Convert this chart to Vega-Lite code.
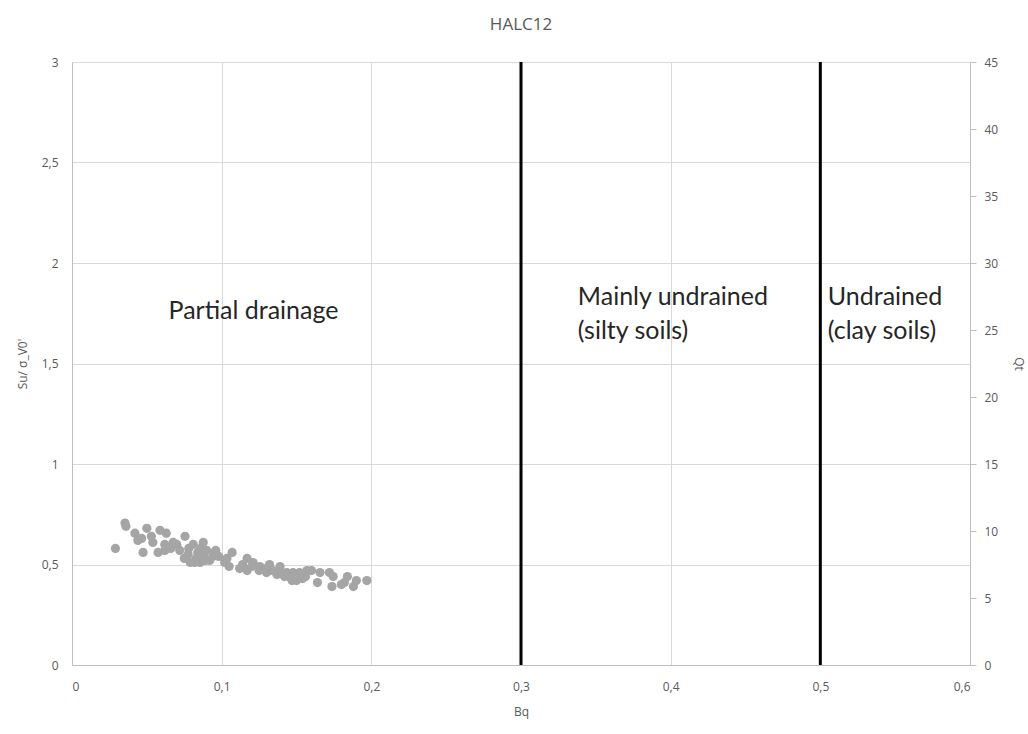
{
  "$schema": "https://vega.github.io/schema/vega-lite/v6.json",
  "width": 898,
  "height": 603,
  "autosize": {"type": "none"},
  "padding": {"left": 72, "top": 62, "right": 58, "bottom": 69},
  "background": "white",
  "title": {"text": "HALC12", "fontSize": 17, "font": "Open Sans", "fontWeight": "normal", "color": "#595959", "offset": 22},
  "config": {
    "view": {"stroke": null},
    "axis": {"labelFont": "Open Sans", "titleFont": "Open Sans", "labelColor": "#595959", "titleColor": "#595959", "labelFontSize": 12, "titleFontSize": 12, "titleFontWeight": "normal", "gridColor": "#D9D9D9", "domainColor": "#BFBFBF", "tickColor": "#BFBFBF"}
  },
  "layer": [
    {
      "data": {"values": [
        {"Bq": 0.0354, "Su": 0.706}, {"Bq": 0.036, "Su": 0.69}, {"Bq": 0.029, "Su": 0.58}, {"Bq": 0.042, "Su": 0.656}, {"Bq": 0.05, "Su": 0.68},
        {"Bq": 0.0465, "Su": 0.63}, {"Bq": 0.0475, "Su": 0.56}, {"Bq": 0.0588, "Su": 0.67}, {"Bq": 0.063, "Su": 0.656},
        {"Bq": 0.054, "Su": 0.61}, {"Bq": 0.0575, "Su": 0.56}, {"Bq": 0.0676, "Su": 0.61}, {"Bq": 0.0755, "Su": 0.64},
        {"Bq": 0.072, "Su": 0.57}, {"Bq": 0.0776, "Su": 0.55}, {"Bq": 0.081, "Su": 0.6}, {"Bq": 0.0877, "Su": 0.61},
        {"Bq": 0.084, "Su": 0.56}, {"Bq": 0.079, "Su": 0.51}, {"Bq": 0.0855, "Su": 0.51}, {"Bq": 0.09, "Su": 0.57},
        {"Bq": 0.0955, "Su": 0.56}, {"Bq": 0.092, "Su": 0.52}, {"Bq": 0.102, "Su": 0.51}, {"Bq": 0.107, "Su": 0.56},
        {"Bq": 0.1035, "Su": 0.53}, {"Bq": 0.117, "Su": 0.53}, {"Bq": 0.121, "Su": 0.51}, {"Bq": 0.112, "Su": 0.48},
        {"Bq": 0.117, "Su": 0.47}, {"Bq": 0.1255, "Su": 0.49}, {"Bq": 0.132, "Su": 0.5}, {"Bq": 0.13, "Su": 0.46},
        {"Bq": 0.139, "Su": 0.49}, {"Bq": 0.137, "Su": 0.45}, {"Bq": 0.1435, "Su": 0.46}, {"Bq": 0.1477, "Su": 0.46},
        {"Bq": 0.147, "Su": 0.42}, {"Bq": 0.152, "Su": 0.46}, {"Bq": 0.156, "Su": 0.44}, {"Bq": 0.16, "Su": 0.47},
        {"Bq": 0.1657, "Su": 0.46}, {"Bq": 0.164, "Su": 0.41}, {"Bq": 0.172, "Su": 0.46}, {"Bq": 0.1745, "Su": 0.44},
        {"Bq": 0.1737, "Su": 0.39}, {"Bq": 0.18, "Su": 0.4}, {"Bq": 0.184, "Su": 0.44}, {"Bq": 0.188, "Su": 0.39},
        {"Bq": 0.19, "Su": 0.42}, {"Bq": 0.197, "Su": 0.42}, {"Bq": 0.182, "Su": 0.41}, {"Bq": 0.15, "Su": 0.42},
        {"Bq": 0.157, "Su": 0.47}, {"Bq": 0.066, "Su": 0.58}, {"Bq": 0.075, "Su": 0.53}, {"Bq": 0.098, "Su": 0.54},
        {"Bq": 0.125, "Su": 0.47}, {"Bq": 0.142, "Su": 0.44}, {"Bq": 0.062, "Su": 0.6}, {"Bq": 0.083, "Su": 0.53},
        {"Bq": 0.07, "Su": 0.6}, {"Bq": 0.078, "Su": 0.58}, {"Bq": 0.086, "Su": 0.58}, {"Bq": 0.088, "Su": 0.54},
        {"Bq": 0.094, "Su": 0.54}, {"Bq": 0.096, "Su": 0.57}, {"Bq": 0.082, "Su": 0.51}, {"Bq": 0.089, "Su": 0.52},
        {"Bq": 0.114, "Su": 0.5}, {"Bq": 0.12, "Su": 0.49}, {"Bq": 0.128, "Su": 0.48}, {"Bq": 0.134, "Su": 0.47},
        {"Bq": 0.14, "Su": 0.46}, {"Bq": 0.145, "Su": 0.44}, {"Bq": 0.154, "Su": 0.43}, {"Bq": 0.062, "Su": 0.57},
        {"Bq": 0.053, "Su": 0.64}, {"Bq": 0.044, "Su": 0.62}, {"Bq": 0.105, "Su": 0.49}
      ]},
      "mark": {"type": "circle", "color": "#A5A5A5", "opacity": 1, "size": 85},
      "encoding": {
        "x": {"field": "Bq", "type": "quantitative", "title": "Bq",
          "scale": {"domain": [0, 0.6], "nice": false, "zero": true},
          "axis": {"values": [0, 0.1, 0.2, 0.3, 0.4, 0.5, 0.6], "grid": true, "ticks": false, "labelPadding": 16, "titlePadding": 14, "labelExpr": "replace(format(datum.value, ''), '.', ',')"}},
        "y": {"field": "Su", "type": "quantitative", "title": "Su/ σ_V0'",
          "scale": {"domain": [0, 3], "nice": false},
          "axis": {"values": [0, 0.5, 1, 1.5, 2, 2.5, 3], "grid": true, "ticks": false, "labelPadding": 14, "titlePadding": 12, "labelExpr": "replace(format(datum.value, ''), '.', ',')"}}
      }
    },
    {
      "data": {"values": [{"Bq": 0.3, "q0": 0, "q1": 45}, {"Bq": 0.5, "q0": 0, "q1": 45}]},
      "mark": {"type": "rule", "color": "black", "strokeWidth": 3},
      "encoding": {
        "x": {"field": "Bq", "type": "quantitative"},
        "y": {"field": "q0", "type": "quantitative", "title": "Qt",
          "scale": {"domain": [0, 45], "nice": false},
          "axis": {"orient": "right", "values": [0, 5, 10, 15, 20, 25, 30, 35, 40, 45], "grid": false, "ticks": true, "tickSize": 6, "labelPadding": 8, "titlePadding": 14}},
        "y2": {"field": "q1"}
      }
    },
    {
      "data": {"values": [
        {"Bq": 0.0645, "Su": 1.76, "label": "Partial drainage"},
        {"Bq": 0.338, "Su": 1.83, "label": "Mainly undrained"},
        {"Bq": 0.338, "Su": 1.66, "label": "(silty soils)"},
        {"Bq": 0.505, "Su": 1.83, "label": "Undrained"},
        {"Bq": 0.505, "Su": 1.66, "label": "(clay soils)"}
      ]},
      "mark": {"type": "text", "font": "Lato", "fontSize": 25, "color": "#262626", "baseline": "middle", "align": "left"},
      "encoding": {
        "x": {"field": "Bq", "type": "quantitative"},
        "y": {"field": "Su", "type": "quantitative", "scale": {"domain": [0, 3], "nice": false}, "axis": null},
        "text": {"field": "label"}
      }
    }
  ],
  "resolve": {"scale": {"y": "independent"}, "axis": {"y": "independent"}}
}
